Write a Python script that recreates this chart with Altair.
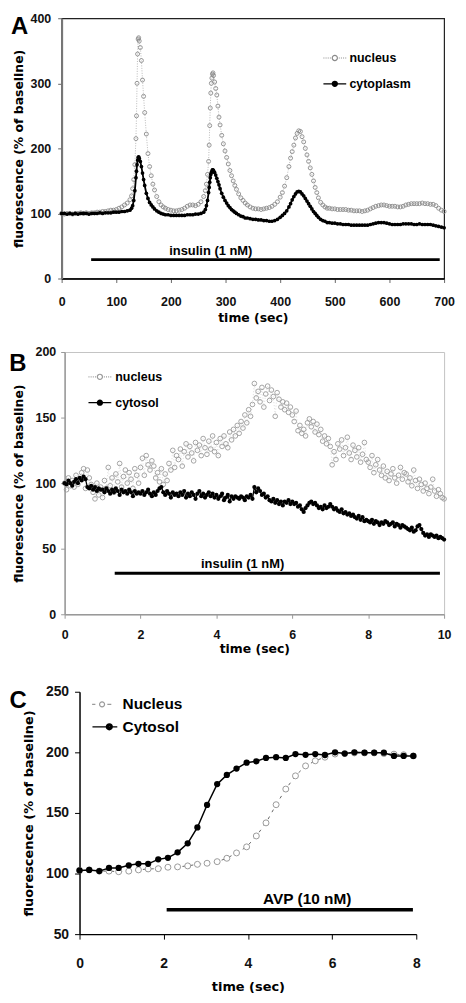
import altair as alt
import pandas as pd

# ---------------- Panel A : insulin, nucleus vs cytoplasm ----------------
tA = [0, 5, 10, 15, 20, 25, 30, 35, 40, 45, 50, 55, 60, 65, 70, 75, 80, 85, 90, 95, 100, 105, 110, 115, 120, 125,
      128, 130, 132, 134, 136, 137, 138, 139, 140, 141, 142, 144, 146, 148, 150, 152, 155, 158, 161, 164, 167, 170, 174, 178, 182, 186, 190,
      195, 200, 205, 210, 215, 220, 225, 230, 235, 240, 245, 250, 255, 260,
      263, 265, 267, 269, 270, 271, 272, 273, 274, 275, 276, 277, 278, 280, 282, 284, 286, 288, 290, 293, 296, 299, 302, 305, 308, 311, 314, 317, 320, 324, 328, 332, 336, 340,
      345, 350, 355, 360, 365, 370, 375, 380, 385, 390, 395,
      400, 404, 408, 412, 416, 419, 422, 425, 428, 431, 434, 437, 440, 443, 446, 449, 452, 455, 458, 461, 464, 467, 470, 474, 478, 482, 486, 490,
      495, 500, 505, 510, 515, 520, 525, 530, 535, 540, 545, 550, 555, 560, 565, 570, 575, 580, 585, 590, 595, 600, 605, 610, 615, 620,
      625, 630, 635, 640, 645, 650, 655, 660, 665, 670, 675, 680, 685, 690, 695, 700]
nucA = [100, 99, 100, 100, 99, 100, 100, 101, 100, 101, 100, 101, 101, 102, 102, 103, 103, 104, 105, 105, 106, 108, 110, 113, 116, 121,
        127, 138, 152, 175, 215, 250, 300, 345, 368, 370, 365, 355, 335, 305, 280, 255, 222, 192, 172, 158, 145, 136, 126, 118, 113, 110, 108,
        106, 105, 104, 104, 105, 106, 108, 111, 113, 113, 112, 114, 118, 126,
        135, 145, 160, 180, 205, 235, 262, 285, 300, 308, 314, 316, 312, 302, 292, 282, 265, 248, 236, 220, 207, 196, 186, 176, 166, 158, 150, 143, 137, 130, 124, 120, 116, 113,
        110, 108, 107, 107, 106, 107, 108, 109, 111, 114, 118,
        125, 132, 142, 155, 172, 185, 195, 205, 216, 223, 227, 226, 218, 210, 200, 190, 180, 170, 160, 150, 140, 132, 124, 117, 113, 110, 108, 108,
        107, 107, 106, 106, 106, 106, 105, 105, 104, 104, 104, 103, 104, 105, 107, 109, 111, 112, 113, 113, 112, 111, 111, 111, 110, 110,
        111, 113, 114, 115, 115, 115, 115, 116, 115, 115, 114, 114, 112, 108, 105, 103]
cytA = [100, 100, 99, 100, 99, 100, 99, 100, 100, 100, 99, 100, 100, 100, 101, 100, 101, 101, 101, 102, 102, 102, 103, 103, 104, 105,
        108, 112, 120, 135, 155, 165, 175, 182, 186, 187, 185, 180, 172, 162, 152, 143, 131, 123, 117, 113, 110, 107, 104, 102, 100, 99, 98,
        98, 97, 97, 97, 97, 97, 97, 98, 98, 98, 99, 99, 100, 102,
        106, 112, 120, 132, 140, 148, 155, 160, 163, 165, 167, 167, 166, 163, 159, 154, 149, 144, 138, 131, 125, 120, 116, 112, 109, 106, 104, 102, 100, 98, 96, 95, 93, 93,
        92, 91, 91, 90, 90, 89, 89, 88, 88, 89, 91,
        94, 97, 100, 104, 110, 115, 121, 126, 130, 133, 134, 133, 130, 127, 123, 119, 115, 111, 107, 103, 100, 97, 94, 91, 89, 88, 86, 86,
        85, 85, 84, 84, 83, 83, 83, 82, 82, 82, 82, 82, 82, 82, 83, 84, 85, 86, 86, 86, 85, 84, 83, 83, 83, 83,
        84, 84, 84, 84, 83, 83, 84, 83, 83, 83, 83, 82, 81, 80, 79, 78]
namesA = ['nucleus', 'cytoplasm']
barA = [54, 692, 29]          # start, end, level of the insulin bar
noteA = [273, 42, 'insulin (1 nM)']
letterA = ['A', -92.7, 404.7]
xticksA = [0, 100, 200, 300, 400, 500, 600, 700]
yticksA = [0, 100, 200, 300, 400]

# ---------------- Panel B : insulin, nucleus vs cytosol ----------------
tB = [0.00, 0.05, 0.10, 0.15, 0.20, 0.25, 0.30, 0.35, 0.40, 0.45, 0.50, 0.55, 0.60, 0.65, 0.70, 0.75, 0.80, 0.85, 0.90, 0.95,
      1.00, 1.05, 1.10, 1.15, 1.20, 1.25, 1.30, 1.35, 1.40, 1.45, 1.50, 1.55, 1.60, 1.65, 1.70, 1.75, 1.80, 1.85, 1.90, 1.95,
      2.00, 2.05, 2.10, 2.15, 2.20, 2.25, 2.30, 2.35, 2.40, 2.45, 2.50, 2.55, 2.60, 2.65, 2.70, 2.75, 2.80, 2.85, 2.90, 2.95,
      3.00, 3.05, 3.10, 3.15, 3.20, 3.25, 3.30, 3.35, 3.40, 3.45, 3.50, 3.55, 3.60, 3.65, 3.70, 3.75, 3.80, 3.85, 3.90, 3.95,
      4.00, 4.05, 4.10, 4.15, 4.20, 4.25, 4.30, 4.35, 4.40, 4.45, 4.50, 4.55, 4.60, 4.65, 4.70, 4.75, 4.80, 4.85, 4.90, 4.95,
      5.00, 5.05, 5.10, 5.15, 5.20, 5.25, 5.30, 5.35, 5.40, 5.45, 5.50, 5.55, 5.60, 5.65, 5.70, 5.75, 5.80, 5.85, 5.90, 5.95,
      6.00, 6.05, 6.10, 6.15, 6.20, 6.25, 6.30, 6.35, 6.40, 6.45, 6.50, 6.55, 6.60, 6.65, 6.70, 6.75, 6.80, 6.85, 6.90, 6.95,
      7.00, 7.05, 7.10, 7.15, 7.20, 7.25, 7.30, 7.35, 7.40, 7.45, 7.50, 7.55, 7.60, 7.65, 7.70, 7.75, 7.80, 7.85, 7.90, 7.95,
      8.00, 8.05, 8.10, 8.15, 8.20, 8.25, 8.30, 8.35, 8.40, 8.45, 8.50, 8.55, 8.60, 8.65, 8.70, 8.75, 8.80, 8.85, 8.90, 8.95,
      9.00, 9.05, 9.10, 9.15, 9.20, 9.25, 9.30, 9.35, 9.40, 9.45, 9.50, 9.55, 9.60, 9.65, 9.70, 9.75, 9.80, 9.85, 9.90, 9.95,
      10.00]
nucB = [100, 95, 104, 98, 102, 97, 106, 99, 103, 108, 111, 96, 110, 104, 99, 93, 88, 100, 91, 97,
        89, 102, 96, 112, 98, 104, 93, 107, 101, 115, 97, 105, 110, 100, 108, 103, 96, 111, 106, 100,
        112, 119, 106, 121, 114, 110, 117, 113, 104, 108, 101, 111, 99, 107, 102, 115, 110, 125, 112, 121,
        118, 126, 113, 124, 130, 120, 128, 123, 117, 131, 125, 129, 121, 134, 127, 122, 132, 126, 136, 124,
        131, 121, 134, 128, 136, 130, 127, 139, 133, 141, 136, 144, 138, 147, 142, 152, 146, 156, 151, 160,
        176, 165, 170, 162, 173, 158, 168, 174, 163, 171, 166, 151, 169, 164, 158, 162, 156, 161, 154, 158,
        152, 147, 155, 140, 144, 138, 141, 136, 146, 149, 143, 147, 139, 145, 137, 141, 132, 136, 130, 134,
        128, 114, 124, 118, 130, 126, 133, 121, 127, 135, 123, 118, 129, 125, 120, 127, 116, 122, 131, 118,
        116, 112, 121, 108, 114, 118, 110, 106, 113, 104, 109, 102, 107, 111, 104, 100, 106, 112, 103, 108,
        107, 101, 104, 98, 110, 102, 96, 103, 99, 94, 100, 96, 92, 97, 103, 94, 90, 95, 92, 89,
        88]
cytB = [100, 99, 102, 100, 98, 101, 103, 100, 104, 102, 105, 103, 97, 96, 98, 95, 97, 94, 96, 95,
        95, 93, 96, 94, 92, 95, 93, 96, 94, 91, 95, 93, 94, 92, 95, 93, 90, 94, 92, 93,
        92, 94, 91, 93, 95, 92, 90, 93, 91, 94, 96, 97, 93, 91, 94, 92, 89, 93, 91, 92,
        90, 93, 91, 94, 89, 92, 90, 93, 91, 88, 92, 94, 90, 92, 89, 91, 93, 90, 92, 89,
        91, 88, 90, 92, 87, 89, 91, 86, 90, 88, 90, 89, 88, 90, 89, 87, 90, 89, 91, 88,
        97, 93, 96, 94, 91, 92, 89, 90, 87, 86, 88, 85, 87, 84, 86, 83, 86, 85, 87, 84,
        86, 84, 85, 82, 83, 80, 78, 81, 83, 85, 86, 84, 85, 83, 81, 82, 80, 83, 81, 82,
        84, 82, 80, 81, 79, 78, 80, 77, 78, 76, 77, 75, 76, 74, 73, 75, 72, 74, 71, 72,
        71, 70, 72, 69, 71, 70, 68, 70, 69, 71, 70, 68, 69, 70, 67, 69, 68, 66, 68, 67,
        66, 65, 64, 66, 63, 64, 67, 68, 65, 62, 60, 61, 59, 61, 60, 59, 60, 58, 59, 58,
        57]
namesB = ['nucleus', 'cytosol']
barB = [1.32, 9.89, 31.3]
noteB = [4.69, 38.6, 'insulin (1 nM)']
letterB = ['B', -1.461, 199.85]
xticksB = [0, 2, 4, 6, 8, 10]
yticksB = [0, 50, 100, 150, 200]

# ---------------- Panel C : AVP, Nucleus vs Cytosol ----------------
tC = [0.00, 0.23, 0.47, 0.70, 0.93, 1.17, 1.40, 1.63, 1.87, 2.10,
      2.33, 2.57, 2.80, 3.03, 3.27, 3.50, 3.73, 3.97, 4.20, 4.43,
      4.67, 4.90, 5.13, 5.37, 5.60, 5.83, 6.07, 6.30, 6.53, 6.77,
      7.00, 7.23, 7.47, 7.70, 7.93]
nucC = [102.5, 103, 102, 102, 101.5, 102, 103, 103.8, 104, 105.2,
        105.5, 106.3, 107.6, 108.5, 109.8, 112.6, 117, 122, 131, 141.8,
        156.8, 169.7, 180.6, 188.8, 193, 196, 198.6, 199, 199.5, 199.5,
        199.5, 199, 198.5, 198, 197]
cytC = [102.5, 103, 102, 104.6, 104.6, 106.8, 108, 108, 111.7, 113,
        117.5, 124.9, 138, 156.6, 173.8, 181.4, 186.6, 191.5, 192.6, 195.4,
        196, 195.4, 198.6, 198, 198.6, 197.8, 200, 199, 200, 199.7,
        199.7, 199.7, 197, 197, 197]
namesC = ['Nucleus', 'Cytosol']
barC = [2.07, 7.92, 70.2]
noteC = [5.41, 78.7, 'AVP (10 nM)']
letterC = ['C', -1.664, 252.05]
xticksC = [0, 2, 4, 6, 8]
yticksC = [50, 100, 150, 200, 250]

LF = 'Liberation Sans'
TF = 'DejaVu Sans'


def circ(r, c=0.0):
    return f'M{c + r},0A{r},{r},0,1,1,{c - r},0A{r},{r},0,1,1,{c + r},0'


def seg(a, b):
    return f'M{a},0L{b},0'


# legend symbols (line + marker)
symN_AB = (seg(-1.64, -1.50) + seg(-1.33, -1.19) + seg(-1.02, -0.88) + seg(-0.71, -0.57)
           + seg(0.57, 0.71) + seg(0.88, 1.02) + seg(1.19, 1.33) + seg(1.50, 1.64) + circ(0.37))
symC_AB = seg(-1.64, -0.37) + seg(0.37, 1.64) + circ(0.37) + circ(0.22) + circ(0.08)
symN_C = seg(-1.76, -1.29) + seg(0.43, 1.0) + circ(0.36, -0.33)
symC_C = (seg(-1.71, 0.28) + seg(1.14, 1.86) + circ(0.43, 0.71) + circ(0.27, 0.71)
          + circ(0.12, 0.71))


def axis(values, title, lsize, lpad, tsize, tcolor, dcolor, dwidth, ttlsize, tpad):
    return alt.Axis(values=values, title=title, grid=False, labelFlush=False, labelOverlap=False,
                    labelFont=LF, labelFontSize=lsize, labelFontWeight='bold', labelColor='#111',
                    labelPadding=lpad, tickSize=tsize, tickColor=tcolor, tickWidth=1,
                    domainColor=dcolor, domainWidth=dwidth,
                    titleFont=TF, titleFontSize=ttlsize, titleFontWeight='bold', titleColor='black',
                    titlePadding=tpad)


def panel(t, nuc, cyt, names, bar, note, letter, xdom, ydom, ax, ay, w, h, st):
    df_n = pd.DataFrame({'t': t, 'v': nuc})
    df_c = pd.DataFrame({'t': t, 'v': cyt})
    xs = alt.Scale(domain=xdom, nice=False, zero=False)
    ys = alt.Scale(domain=ydom, nice=False, zero=False)
    X = alt.X('t:Q', scale=xs, axis=ax)
    Y = alt.Y('v:Q', scale=ys, axis=ay)

    line_n = alt.Chart(df_n).mark_line(color=st['ncol_line'], strokeWidth=st['nlw'],
                                       strokeDash=st['ndash']).encode(x=X, y=Y)
    pkw = dict(shape='circle', filled=False, stroke=st['ncol'], strokeWidth=st['npw'],
               size=st['nsize'], opacity=1)
    if st['nfill'] != 'none':
        pkw['fill'] = st['nfill']
    pts_n = alt.Chart(df_n).mark_point(**pkw).encode(x=X, y=Y)
    line_c = alt.Chart(df_c).mark_line(color='black', strokeWidth=st['clw']).encode(x=X, y=Y)
    pts_c = alt.Chart(df_c).mark_circle(color='black', size=st['csize'], opacity=1).encode(x=X, y=Y)

    df_bar = pd.DataFrame({'t': [bar[0]], 't2': [bar[1]], 'v': [bar[2]]})
    rule = alt.Chart(df_bar).mark_rule(color='black', strokeWidth=st['barw']).encode(
        x=X, x2=alt.X2('t2:Q'), y=Y)
    df_note = pd.DataFrame({'t': [note[0]], 'v': [note[1]], 'label': [note[2]]})
    txt = alt.Chart(df_note).mark_text(font=LF, fontSize=st['notesize'], fontWeight='bold',
                                       color='black', align='center', baseline='middle').encode(
        x=X, y=Y, text='label:N')
    df_letter = pd.DataFrame({'t': [letter[1]], 'v': [letter[2]], 'label': [letter[0]]})
    let = alt.Chart(df_letter).mark_text(font=LF, fontSize=24, fontWeight='bold', color='black',
                                         align='left', baseline='top').encode(
        x=X, y=Y, text='label:N')

    leg = alt.Legend(title=None, orient='none', legendX=st['lx'], legendY=st['ly'],
                     direction='vertical', padding=0, labelFont=LF, labelFontSize=st['lfs'],
                     labelFontWeight='bold', labelColor='black', labelOffset=st['loff'],
                     rowPadding=st['rowpad'], symbolSize=196, symbolStrokeWidth=1.2,
                     symbolOpacity=1)
    df_leg = pd.DataFrame({'t': pd.Series([], dtype=float), 'v': pd.Series([], dtype=float),
                           's': pd.Series([], dtype=str)})
    legend_layer = alt.Chart(df_leg).mark_point(filled=False, opacity=1, strokeWidth=1.2).encode(
        x=X, y=Y,
        shape=alt.Shape('s:N', scale=alt.Scale(domain=names, range=st['syms']), legend=leg),
        stroke=alt.Stroke('s:N', scale=alt.Scale(domain=names, range=[st['ncol'], 'black']), legend=leg),
    )

    return alt.layer(line_n, pts_n, line_c, pts_c, rule, txt, let, legend_layer).properties(
        width=w, height=h,
        view=alt.ViewBackground(stroke=st['frame'], strokeWidth=st['framew']),
    )


def spacer(w, h):
    return alt.Chart(pd.DataFrame({'t': [0], 'v': [0]})).mark_point(opacity=0, size=1).encode(
        x=alt.X('t:Q', axis=None, scale=alt.Scale(domain=[0, 1])),
        y=alt.Y('v:Q', axis=None, scale=alt.Scale(domain=[0, 1])),
    ).properties(width=w, height=h, view=alt.ViewBackground(stroke='transparent'))


# legend offsets for B and C include the spacer widths (3 and 18 px) of their rows
stA = dict(ncol='#8a8a8a', ncol_line='#a8a8a8', nlw=0.8, ndash=[1, 1.5], npw=0.9, nsize=16, nfill='none',
           clw=1.8, csize=14, barw=3, notesize=13, lx=267, ly=32, lfs=12.5, loff=6.7, rowpad=11,
           syms=[symN_AB, symC_AB], frame='#222', framew=1.2)
stB = dict(ncol='#9a9a9a', ncol_line='#c4c4c4', nlw=0.6, ndash=[1, 2], npw=0.9, nsize=22, nfill='none',
           clw=1.3, csize=18, barw=3, notesize=13, lx=30.5, ly=17, lfs=12.5, loff=7.5, rowpad=11,
           syms=[symN_AB, symC_AB], frame='#c4c4c4', framew=1)
stC = dict(ncol='#9a9a9a', ncol_line='#666666', nlw=1, ndash=[3, 5], npw=1, nsize=36, nfill='white',
           clw=1.5, csize=40, barw=3.5, notesize=15.5, lx=35, ly=4.7, lfs=15.5, loff=10.3, rowpad=5.6,
           syms=[symN_C, symC_C], frame='transparent', framew=1)

axXA = axis(xticksA, 'time (sec)', 12.5, 13, 4, '#666', 'black', 1.5, 12.5, 3.6)
axYA = axis(yticksA, 'fluorescence (% of baseline)', 12.5, 7, 4, '#666', '#777', 2, 12.5, 5)
axXB = axis(xticksB, 'time (sec)', 12.5, 10, 4, '#999', '#999', 1.5, 12.5, 2)
axYB = axis(yticksB, 'fluorescence (% of baseline)', 12.5, 5, 4, '#999', '#999', 1.5, 12.5, 10)
axXC = axis(xticksC, 'time (sec)', 14, 17.7, 5, 'black', 'black', 1.5, 13, 10)
axYC = axis(yticksC, 'fluorescence (% of baseline)', 14, 6, 5, 'black', 'black', 1.5, 13, 10.3)

pA = panel(tA, nucA, cytA, namesA, barA, noteA, letterA, [0, 700], [0, 400], axXA, axYA, 385, 262, stA)
pB = panel(tB, nucB, cytB, namesB, barB, noteB, letterB, [0, 10], [0, 200], axXB, axYB, 382, 264, stB)
pC = panel(tC, nucC, cytC, namesC, barC, noteC, letterC, [0, 8], [50, 250], axXC, axYC, 339, 244, stC)

rowB = alt.hconcat(spacer(3, 313), pB, spacing=0, bounds='flush')
rowC = alt.hconcat(spacer(18, 1), pC, spacing=0, bounds='flush')

chart = alt.vconcat(pA, rowB, rowC, spacing=20).resolve_scale(
    shape='independent', stroke='independent'
).resolve_legend(
    shape='independent', stroke='independent'
).properties(
    padding={'left': 0, 'top': 0, 'right': 2, 'bottom': 2}
).configure(background='white')

chart.save('out.html', embed_options={'renderer': 'svg', 'actions': False})
